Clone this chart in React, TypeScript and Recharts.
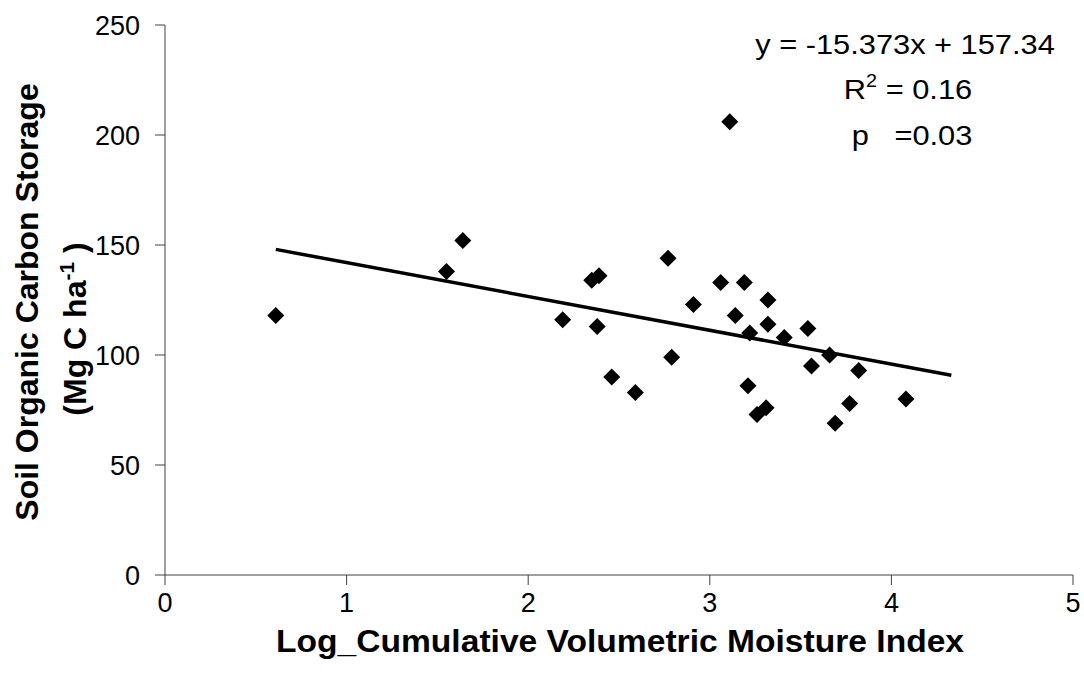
import React from "react";
import { ScatterChart, Scatter, XAxis, YAxis, Customized } from "recharts";

const moistureIndex = [0.61, 1.55, 1.64, 2.19, 2.35, 2.39, 2.38, 2.77, 3.11, 3.06, 3.19, 2.91, 3.32, 3.14, 3.22, 3.32, 3.41, 3.54, 3.66, 2.79, 3.56, 3.82, 2.46, 2.59, 3.21, 3.31, 3.26, 3.77, 4.08, 3.69];
const carbonStorage = [118, 138, 152, 116, 134, 136, 113, 144, 206, 133, 133, 123, 125, 118, 110, 114, 108, 112, 100, 99, 95, 93, 90, 83, 86, 76, 73, 78, 80, 69];
const trendX = [0.61, 4.33];
const trendY = [148.0, 90.8];
const xTicks = [0, 1, 2, 3, 4, 5];
const yTicks = [0, 50, 100, 150, 200, 250];

const points = moistureIndex.map((x, i) => ({ x, y: carbonStorage[i] }));
const trend = trendX.map((x, i) => ({ x, y: trendY[i] }));

const FONT = "'Liberation Sans', Arial, sans-serif";

const Diamond = (props: any) => {
  const { cx, cy } = props;
  const r = 8.5;
  return (
    <polygon
      points={`${cx},${cy - r} ${cx + r},${cy} ${cx},${cy + r} ${cx - r},${cy}`}
      fill="#000"
    />
  );
};

const Labels = () => (
  <g fontFamily={FONT} fill="#000">
    <g transform="translate(620, 652) scale(1.084, 1)">
      <text x={0} y={0} textAnchor="middle" fontSize={31} fontWeight="bold">
        Log_Cumulative Volumetric Moisture Index
      </text>
    </g>
    <text x={38} y={302} textAnchor="middle" fontSize={32} fontWeight="bold" transform="rotate(-90, 38, 302)">
      Soil Organic Carbon Storage
    </text>
    <text x={86} y={329} textAnchor="middle" fontSize={32} fontWeight="bold" transform="rotate(-90, 86, 329)" style={{ whiteSpace: "pre" }}>
      <tspan>(Mg C ha</tspan>
      <tspan fontSize={21} dy={-12}>-1</tspan>
      <tspan dy={12}> )</tspan>
    </text>
    <g transform="translate(905, 54) scale(1.1, 1)">
      <text x={0} y={0} textAnchor="middle" fontSize={28}>
        y = -15.373x + 157.34
      </text>
    </g>
    <g transform="translate(908, 99) scale(1.1, 1)">
      <text x={0} y={0} textAnchor="middle" fontSize={28}>
        <tspan>R</tspan>
        <tspan fontSize={18} dy={-12}>2</tspan>
        <tspan dy={12}> = 0.16</tspan>
      </text>
    </g>
    <g transform="translate(912, 145) scale(1.1, 1)">
      <text x={0} y={0} textAnchor="middle" fontSize={28} style={{ whiteSpace: "pre" }}>
        p   =0.03
      </text>
    </g>
  </g>
);

export default function App() {
  return (
    <div style={{ position: "absolute", left: 0, top: 0, width: 1084, height: 677, background: "#fff" }}>
      <ScatterChart width={1084} height={677} margin={{ top: 25, right: 11, bottom: 0, left: 0 }}>
        <XAxis
          type="number"
          dataKey="x"
          domain={[0, 5]}
          ticks={xTicks}
          height={102}
          tickSize={10}
          tickMargin={8}
          axisLine={{ stroke: "#404040", strokeWidth: 1 }}
          tickLine={{ stroke: "#404040", strokeWidth: 1 }}
          tick={{ fill: "#000", fontSize: 27, fontFamily: FONT }}
          allowDataOverflow
        />
        <YAxis
          type="number"
          dataKey="y"
          domain={[0, 250]}
          ticks={yTicks}
          width={165}
          tickSize={10}
          tickMargin={15}
          axisLine={{ stroke: "#404040", strokeWidth: 1 }}
          tickLine={{ stroke: "#404040", strokeWidth: 1 }}
          tick={{ fill: "#000", fontSize: 27, fontFamily: FONT }}
          allowDataOverflow
        />
        <Scatter data={trend} line={{ stroke: "#000", strokeWidth: 3.5 }} shape={() => null} isAnimationActive={false} />
        <Scatter data={points} shape={<Diamond />} isAnimationActive={false} />
        <Customized component={Labels} />
      </ScatterChart>
    </div>
  );
}
